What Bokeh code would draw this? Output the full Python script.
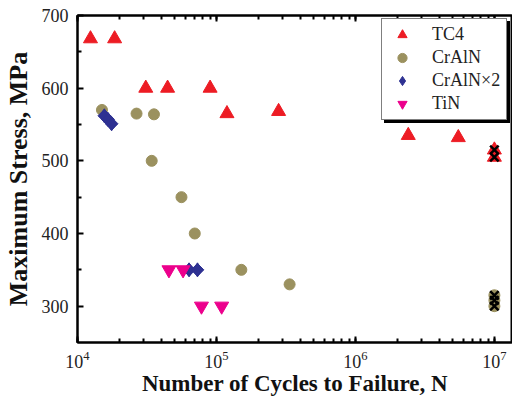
import math
from bokeh.plotting import figure
from bokeh.models import (LogAxis, Range1d, Legend, LegendItem,
                          FixedTicker, LogTicker)
from bokeh.embed import file_html
from bokeh.resources import INLINE

# ---- data ----
tc4_n = [1.24e4, 1.85e4, 3.1e4, 4.45e4, 9.0e4, 1.19e5, 2.8e5, 2.4e6, 5.5e6]
tc4_s = [668, 668, 600, 600, 600, 565, 568, 535, 532]
tc4_run_n = [1e7, 1e7]
tc4_run_s = [515, 505]

craln_n = [1.5e4, 2.66e4, 3.55e4, 3.42e4, 5.6e4, 6.98e4, 1.51e5, 3.36e5]
craln_s = [570, 565, 564, 500, 450, 400, 350, 330]
craln_run_n = [1e7, 1e7, 1e7]
craln_run_s = [315, 308, 300]

craln2_n = [1.56e4, 1.66e4, 1.76e4, 6.35e4, 7.3e4]
craln2_s = [562, 557, 551, 350, 350]

tin_n = [4.55e4, 5.75e4, 7.8e4, 1.09e5]
tin_s = [350, 350, 300, 300]

y_ticks = [300, 400, 500, 600, 700]
y_minor_ticks = [350, 450, 550, 650]

legend_labels = ["TC4", "CrAlN", "CrAlN×2", "TiN"]

RED = "#ed1c24"
OLIVE = "#9b915f"
NAVY = "#2e3192"
MAGENTA = "#ec008c"
FONT = "Liberation Serif"

p = figure(width=512, height=399, x_axis_type="log",
           x_range=Range1d(1e4, 1.35e7), y_range=Range1d(250, 700),
           output_backend="svg", toolbar_location=None,
           min_border_left=77, min_border_right=0,
           min_border_top=15, min_border_bottom=57)
p.grid.visible = False
p.background_fill_color = "white"
p.border_fill_color = "white"
p.outline_line_color = "black"
p.outline_line_width = 2

for ax in [p.xaxis[0], p.yaxis[0]]:
    ax.axis_line_width = 2
    ax.axis_line_color = "black"
    ax.major_tick_in = 6
    ax.major_tick_out = 0
    ax.minor_tick_in = 4
    ax.minor_tick_out = 0
    ax.major_tick_line_width = 2
    ax.minor_tick_line_width = 2
    ax.major_label_text_font = FONT
    ax.major_label_text_font_size = "18px"
    ax.major_label_text_color = "#222222"
    ax.axis_label_text_font = FONT
    ax.axis_label_text_font_style = "bold"
    ax.axis_label_text_color = "#111111"

p.xaxis[0].axis_label = "Number of Cycles to Failure, N"
p.xaxis[0].axis_label_text_font_size = "23px"
p.xaxis[0].major_label_standoff = 8
p.xaxis[0].axis_label_standoff = 0
p.xaxis[0].ticker = LogTicker(num_minor_ticks=10)
p.yaxis[0].axis_label = "Maximum Stress, MPa"
p.yaxis[0].axis_label_text_font_size = "26px"
p.yaxis[0].ticker = FixedTicker(ticks=y_ticks, minor_ticks=y_minor_ticks)
p.yaxis[0].major_label_standoff = 9
p.yaxis[0].axis_label_standoff = 6

top = LogAxis(ticker=LogTicker(num_minor_ticks=10), axis_line_width=2,
              major_tick_in=6, major_tick_out=0, minor_tick_in=4, minor_tick_out=0,
              major_tick_line_width=2, minor_tick_line_width=2,
              major_label_text_color=None)
p.add_layout(top, "above")

# ---- glyphs ----
r_tc4 = p.scatter(tc4_n, tc4_s, marker="triangle", size=14, fill_color=RED, line_color=RED)
p.scatter(tc4_run_n, tc4_run_s, marker="triangle", size=14, fill_color=RED, line_color=RED)
r_cr = p.scatter(craln_n, craln_s, marker="circle", size=11, fill_color=OLIVE, line_color=OLIVE)
p.scatter(craln_run_n, craln_run_s, marker="circle", size=11, fill_color=OLIVE, line_color=OLIVE)
# diamond renderer (used for the legend symbol), covered by rotated squares
r_cr2 = p.scatter(craln2_n, craln2_s, marker="diamond", size=14, fill_color=NAVY, line_color=NAVY)
p.scatter(craln2_n, craln2_s, marker="square", size=9, angle=math.pi / 4,
          fill_color=NAVY, line_color=NAVY)
r_tin = p.scatter(tin_n, tin_s, marker="inverted_triangle", size=14, fill_color=MAGENTA, line_color=MAGENTA)
p.scatter(tc4_run_n, tc4_run_s, marker="x", size=12, line_color="black", line_width=2.5)
p.scatter(craln_run_n, craln_run_s, marker="x", size=12, line_color="black", line_width=2.5)

rends = [r_tc4, r_cr, r_cr2, r_tin]


def make_legend(loc, shadow=False):
    labs = [" "] * len(legend_labels) if shadow else legend_labels
    lg = Legend(items=[LegendItem(label=l, renderers=[r]) for l, r in zip(labs, rends)],
                location=loc)
    lg.label_text_font = FONT
    lg.label_text_font_size = "18px"
    lg.label_text_color = "#222222"
    lg.border_line_color = "black"
    lg.border_line_width = 1
    lg.background_fill_color = "black" if shadow else "white"
    lg.background_fill_alpha = 1.0
    lg.padding = 4
    lg.spacing = 0
    lg.glyph_width = 32
    lg.glyph_height = 23
    lg.label_height = 20
    lg.label_width = 70
    lg.label_standoff = 14
    lg.margin = 0
    return lg


p.add_layout(make_legend((307, 219), shadow=True), "center")
p.add_layout(make_legend((304, 222)), "center")

open("out.html", "w").write(file_html(p, INLINE))
